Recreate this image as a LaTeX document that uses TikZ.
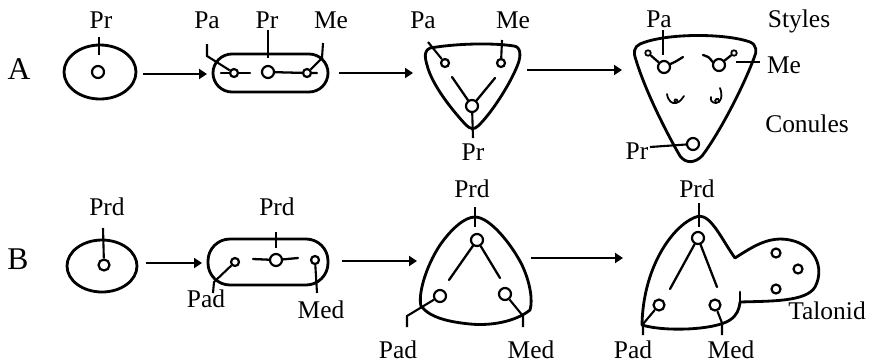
\documentclass[tikz,border=0pt]{standalone}
\usepackage{fontspec}
\setmainfont{Liberation Serif}
\usetikzlibrary{arrows.meta}
\tikzset{
    toothline/.style={line width=1.6pt, line join=round, line cap=round},
    cusp/.style={circle, draw, line width=1.25pt, inner sep=0pt, minimum size=2.4mm},
    smallcusp/.style={cusp, minimum size=1.6mm},
    stylecusp/.style={cusp, line width=1pt, minimum size=1.1mm},
    talcusp/.style={cusp, minimum size=1.8mm},
    crest/.style={line width=1.3pt, line cap=round},
    leader/.style={line width=1.2pt},
    cusplabel/.style={font=\fontsize{14.5}{17}\selectfont, anchor=base, inner sep=0pt},
    rowlabel/.style={font=\fontsize{18}{21}\selectfont, anchor=base, inner sep=0pt},
    stagearrow/.style={-{Triangle[length=1.6mm,width=2mm]}, line width=1.3pt}
}

\begin{document}
\begin{tikzpicture}[x=0.02cm, y=-0.02cm]
\useasboundingbox (0,0) rectangle (871,363);

% ---- row A: upper molar ----
\node[rowlabel] (rowa) at (19,79) {A};

% stage 1
\draw[toothline] (100,72) ellipse [x radius=36, y radius=27];
\node[cusp] (a1pr) at (98,72) {};
\node[cusplabel] (a1prl) at (101,28) {Pr};
\coordinate (a1prt) at (99,37);
\coordinate (a1prb) at (99,55);
\draw[leader] (a1prt) -- (a1prb);

\coordinate (a1out) at (143,74);
\coordinate (a2in) at (207,74);
\draw[stagearrow] (a1out) -- (a2in);

% stage 2
\draw[toothline, rounded corners=0.38cm] (213,54) rectangle (328,92);
\node[smallcusp] (a2pa) at (234,73) {};
\node[cusp] (a2pr) at (268,72) {};
\node[smallcusp] (a2me) at (307,73) {};
\draw[crest] (221,73) -- (a2pa) -- (250,73);
\draw[crest] (a2pr) -- (a2me) -- (317,73);
\node[cusplabel] (a2pal) at (207,28) {Pa};
\node[cusplabel] (a2prl) at (267,28) {Pr};
\node[cusplabel] (a2mel) at (331,28) {Me};
\draw[leader] (207,44) -- (207,56) -- (a2pa);
\draw[leader] (268,30) -- (268,58);
\draw[leader] (323,43) -- (322,58) -- (a2me);

\coordinate (a2out) at (339,73);
\coordinate (a3in) at (413,73);
\draw[stagearrow] (a2out) -- (a3in);

% stage 3
\draw[toothline] (430,48) .. controls (460,43) and (495,43) .. (514,46)
    .. controls (521,47) and (521,56) .. (518,64)
    .. controls (510,85) and (490,115) .. (478,126)
    .. controls (474,130) and (470,129) .. (466,125)
    .. controls (452,110) and (432,85) .. (427,65)
    .. controls (424,55) and (425,50) .. (430,48) -- cycle;
\node[smallcusp] (a3pa) at (445,63) {};
\node[smallcusp] (a3me) at (501,63) {};
\node[cusp] (a3pr) at (472,106) {};
\draw[crest] (452,77) -- (a3pr);
\draw[crest] (495,78) -- (a3pr);
\node[cusplabel] (a3pal) at (423,28) {Pa};
\node[cusplabel] (a3mel) at (513,28) {Me};
\node[cusplabel] (a3prl) at (473,160) {Pr};
\draw[leader] (428,42) -- (a3pa);
\draw[leader] (502,40) -- (a3me);
\draw[leader] (a3pr) -- (473,138);

\coordinate (a3out) at (527,70);
\coordinate (a4in) at (622,70);
\draw[stagearrow] (a3out) -- (a4in);

% stage 4
\draw[toothline] (640,44) .. controls (665,33) and (725,33) .. (750,42)
    .. controls (757,45) and (757,52) .. (754,58)
    .. controls (742,90) and (718,135) .. (702,156)
    .. controls (695,163) and (686,164) .. (680,156)
    .. controls (666,132) and (645,90) .. (636,60)
    .. controls (633,52) and (634,47) .. (640,44) -- cycle;
\node[cusp] (a4pa) at (664,67) {};
\node[stylecusp] (a4pas) at (648,53) {};
\node[cusp] (a4me) at (719,65) {};
\node[stylecusp] (a4mes) at (734,53) {};
\node[cusp] (a4pr) at (693,144) {};
\draw[crest] (a4pas) -- (a4pa);
\draw[crest] (a4pa.25) .. controls (675,62) .. (683,57);
\draw[crest] (703,55) .. controls (709,57) .. (a4me.155);
\draw[crest] (a4me) -- (a4mes);
% conules
\draw[crest, line width=1pt] (667,94) .. controls (668,101) and (672,104) .. (676,103)
    .. controls (680,102) and (682,99) .. (684,96);
\draw[crest, line width=1pt] (676,103) .. controls (672,100) and (677,97) .. (678,102);
\draw[crest, line width=1pt] (720,88) .. controls (723,96) and (721,103) .. (716,103)
    .. controls (712,103) and (710,100) .. (711,97);
\draw[crest, line width=1pt] (716,103) .. controls (713,99) and (719,97) .. (719,101);
\node[cusplabel] (a4pal) at (659,27) {Pa};
\node[cusplabel] (stylesl) at (799,27) {Styles};
\node[cusplabel] (a4mel) at (784,73) {Me};
\node[cusplabel] (conulesl) at (807,132) {Conules};
\node[cusplabel] (a4prl) at (637,159) {Pr};
\draw[leader] (663,30) -- (663,55);
\draw[leader] (736,62) -- (760,62);
\draw[leader] (650,147) -- (a4pr);

% ---- row B: lower molar ----
\node[rowlabel] (rowb) at (18,269) {B};

% stage 1
\draw[toothline] (102,266) ellipse [x radius=35, y radius=26];
\node[cusp, minimum size=2.2mm] (b1prd) at (104,265) {};
\node[cusplabel] (b1prdl) at (107,215) {Prd};
\draw[leader] (103,228) -- (b1prd);

\coordinate (b1out) at (146,263);
\coordinate (b2in) at (202,263);
\draw[stagearrow] (b1out) -- (b2in);

% stage 2
\draw[toothline, rounded corners=0.44cm] (208,239) rectangle (328,285);
\node[smallcusp] (b2pad) at (235,262) {};
\node[cusp] (b2prd) at (276,260) {};
\node[smallcusp] (b2med) at (315,260) {};
\draw[crest] (253,259) -- (b2prd) -- (298,258);
\node[cusplabel] (b2prdl) at (277,215) {Prd};
\node[cusplabel] (b2padl) at (206,307) {Pad};
\node[cusplabel] (b2medl) at (321,318) {Med};
\draw[leader] (276,232) -- (276,248);
\draw[leader] (b2pad) -- (214,282) -- (213,293);
\draw[leader] (b2med) -- (317,293);

\coordinate (b2out) at (342,261);
\coordinate (b3in) at (417,261);
\draw[stagearrow] (b2out) -- (b3in);

% stage 3
\draw[toothline] (475,217) .. controls (490,217) and (512,245) .. (522,265)
    .. controls (530,282) and (533,300) .. (530,310)
    .. controls (515,322) and (490,326) .. (470,324)
    .. controls (450,322) and (430,318) .. (421,306)
    .. controls (418,295) and (425,268) .. (440,245)
    .. controls (452,228) and (465,217) .. (475,217) -- cycle;
\node[cusp] (b3prd) at (477,240) {};
\node[cusp] (b3pad) at (440,296) {};
\node[cusp] (b3med) at (505,294) {};
\draw[crest] (b3prd) -- (449,280);
\draw[crest] (b3prd) -- (500,278);
\node[cusplabel] (b3prdl) at (472,197) {Prd};
\node[cusplabel] (b3padl) at (398,358) {Pad};
\node[cusplabel] (b3medl) at (531,358) {Med};
\draw[leader] (475,207) -- (475,227);
\draw[leader] (b3pad) -- (407,316) -- (407,327);
\draw[leader] (b3med) -- (523,316) -- (523,327);

\coordinate (b3out) at (531,258);
\coordinate (b4in) at (623,258);
\draw[stagearrow] (b3out) -- (b4in);

% stage 4: trigonid with talonid
\draw[toothline] (699,216) .. controls (675,222) and (643,265) .. (642,325)
    .. controls (665,332) and (715,330) .. (730,320)
    .. controls (737,315) and (739,310) .. (740,302)
    .. controls (770,301) and (806,302) .. (815,287)
    .. controls (825,268) and (815,245) .. (790,240)
    .. controls (770,236) and (755,245) .. (735,258)
    .. controls (722,240) and (712,216) .. (699,216) -- cycle;
\coordinate (talstub) at (740,292);
\draw[toothline] (740,302) -- (talstub);
\node[cusp] (b4prd) at (698,238) {};
\node[cusp, minimum size=2.2mm] (b4pad) at (659,305) {};
\node[cusp, minimum size=2.2mm] (b4med) at (715,305) {};
\node[talcusp] (tal1) at (776,253) {};
\node[talcusp] (tal2) at (798,269) {};
\node[talcusp] (tal3) at (776,289) {};
\draw[crest] (b4prd) -- (670,289);
\draw[crest] (b4prd) -- (717,287);
\node[cusplabel] (b4prdl) at (697,197) {Prd};
\node[cusplabel] (b4padl) at (633,358) {Pad};
\node[cusplabel] (b4medl) at (731,358) {Med};
\node[cusplabel] (talonidl) at (827,319) {Talonid};
\draw[leader] (699,203) -- (699,227);
\draw[leader] (b4pad) -- (643,324) -- (643,335);
\draw[leader] (b4med) -- (722,323) -- (722,335);
\end{tikzpicture}
\end{document}
